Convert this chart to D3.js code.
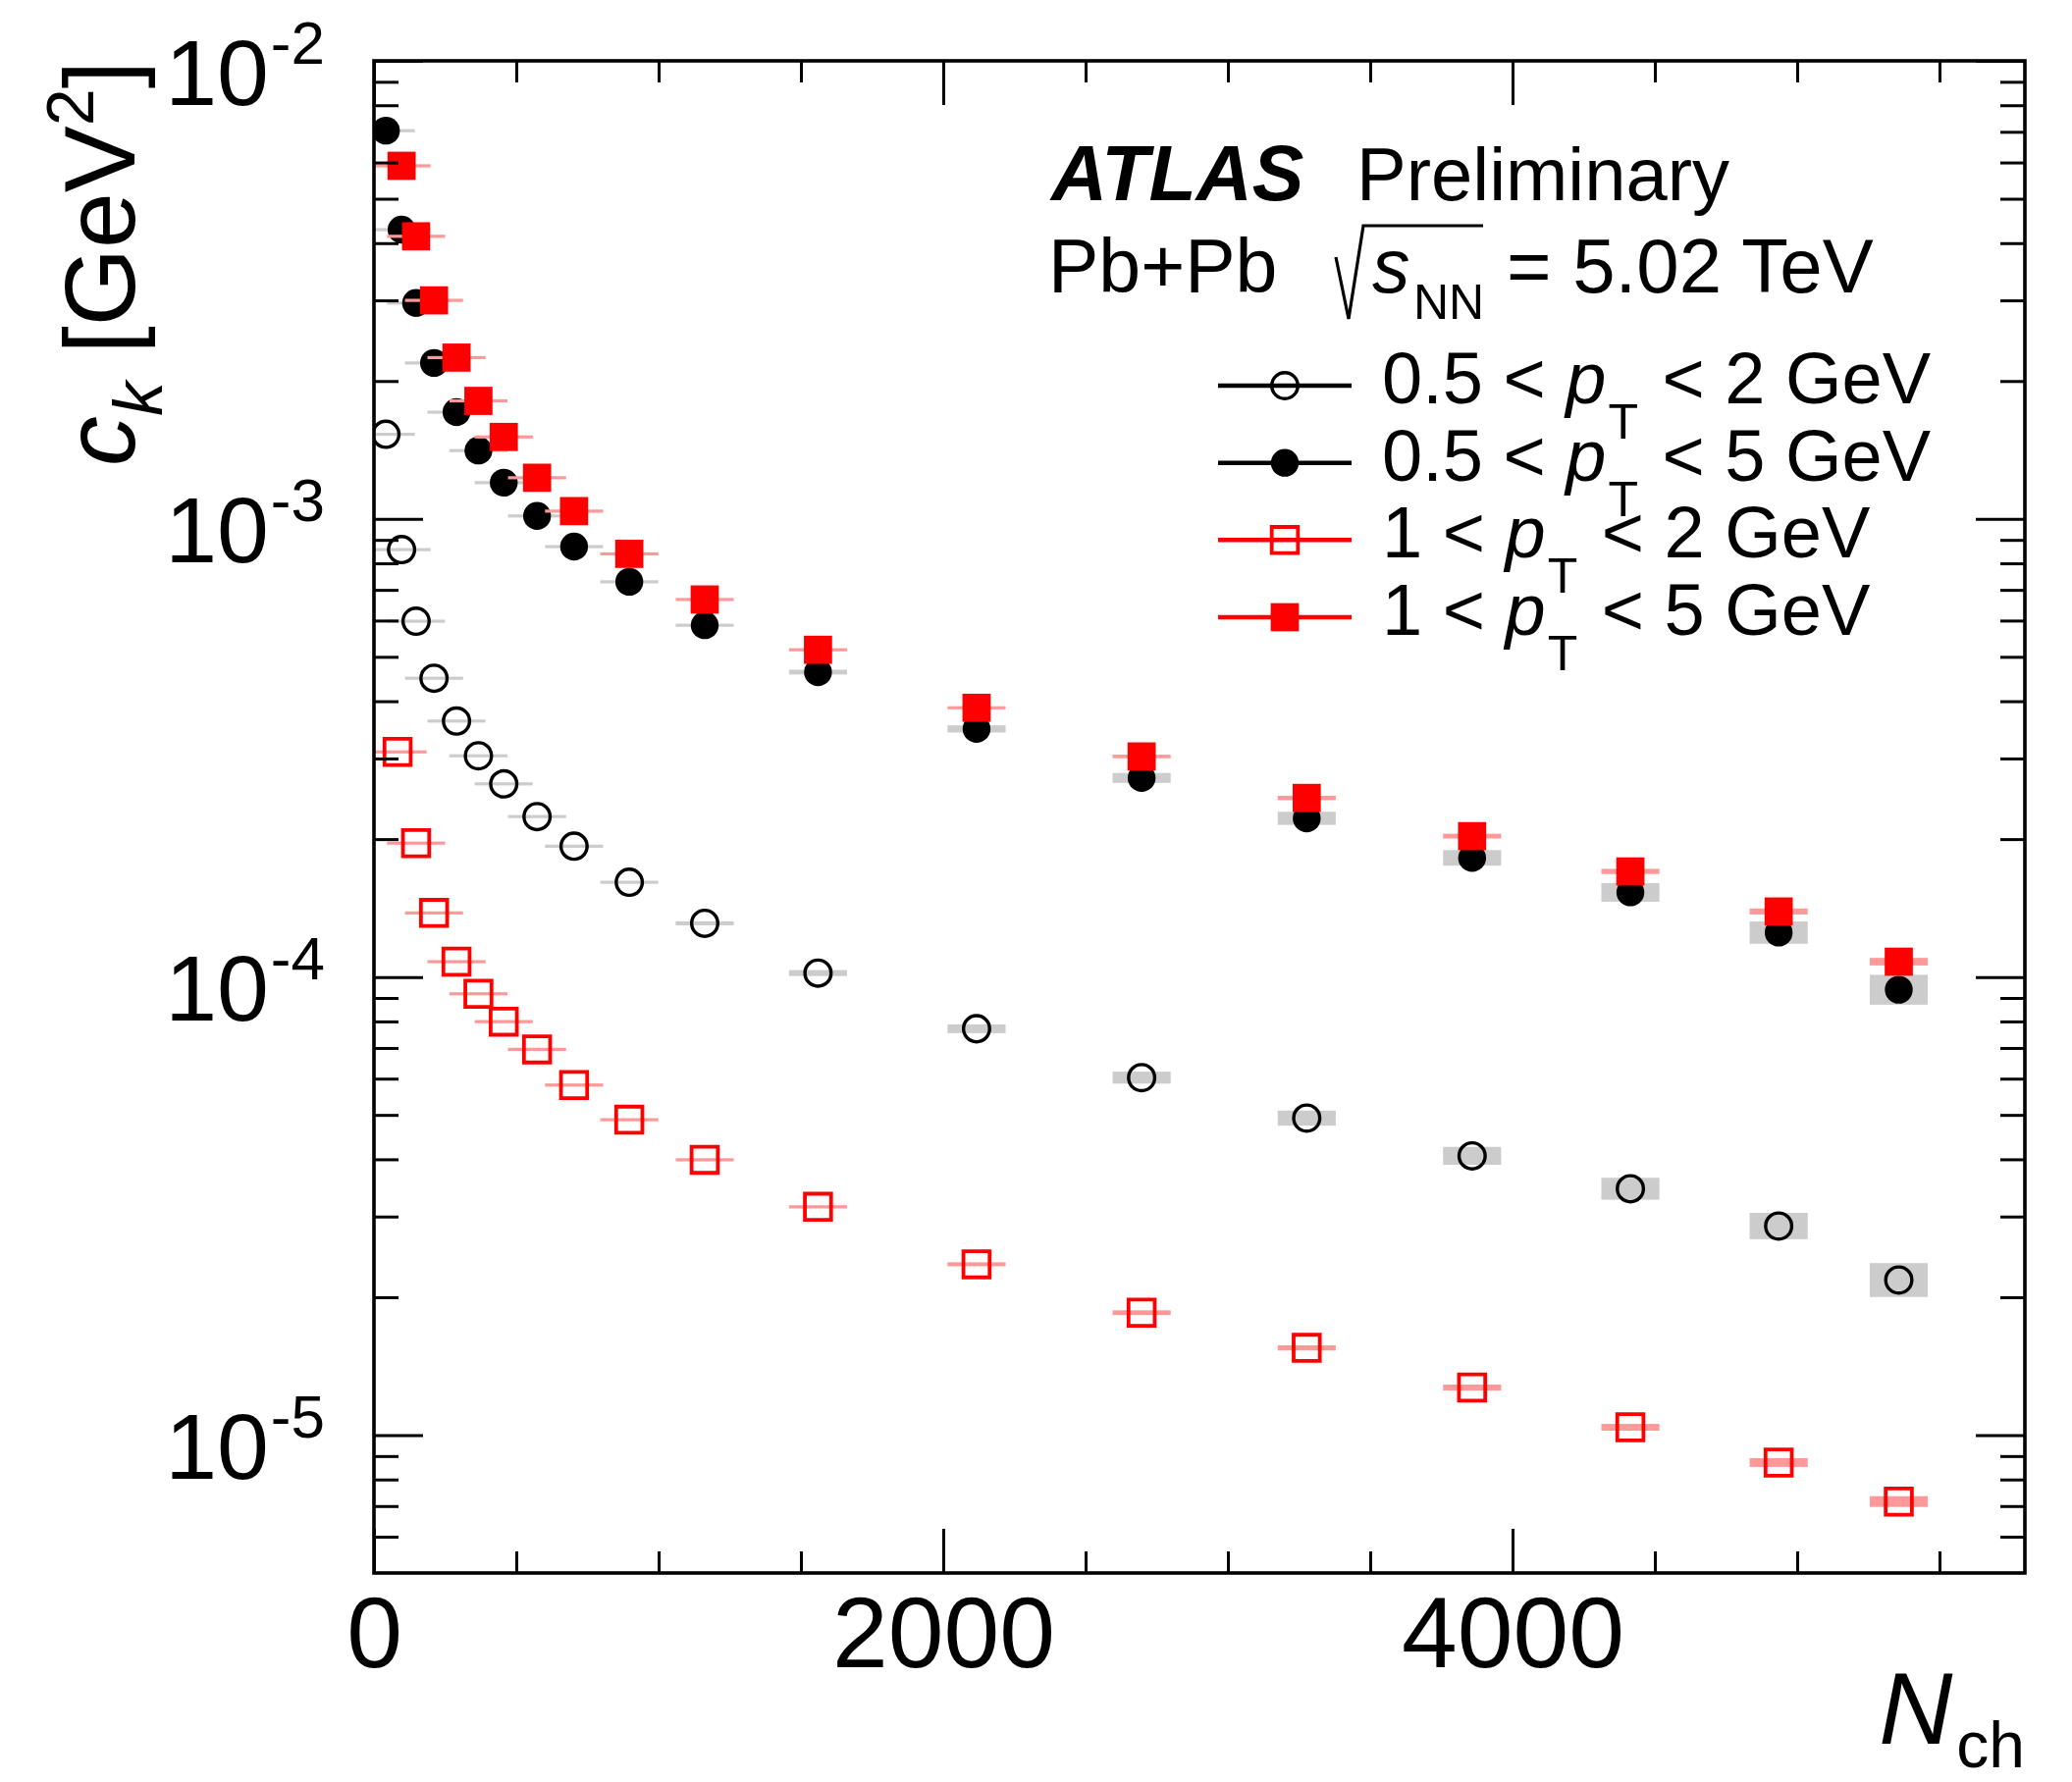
<!DOCTYPE html>
<html>
<head>
<meta charset="utf-8">
<script src="https://cdn.jsdelivr.net/npm/d3@7"></script>
<style>
  body { margin: 0; background: #fff; }
  text { font-family: "Liberation Sans", Arial, Helvetica, sans-serif; fill: #000; }
</style>
</head>
<body>
<div id="vis"></div>
<script>
// N_ch bin centres
const nchA = [42, 97, 148, 211, 290, 367, 456, 573, 703, 897, 1162, 1560, 2117, 2697, 3277, 3858, 4414, 4935, 5357];
const nchB = [97, 148, 211, 290, 367, 456, 573, 703, 897, 1162, 1560, 2117, 2697, 3277, 3858, 4414, 4935, 5357];
const nchC = [83, 148, 211, 290, 367, 456, 573, 703, 897, 1162, 1560, 2117, 2697, 3277, 3858, 4414, 4935, 5357];

// c_k values
const ck05to2 = [1.53e-3, 8.57e-4, 5.98e-4, 4.49e-4, 3.62e-4, 3.04e-4, 2.64e-4, 2.24e-4, 1.93e-4, 1.61e-4,
  1.31e-4, 1.02e-4, 7.71e-5, 6.03e-5, 4.92e-5, 4.07e-5, 3.45e-5, 2.86e-5, 2.18e-5];
const ck05to5 = [7.04e-3, 4.28e-3, 2.96e-3, 2.19e-3, 1.71e-3, 1.41e-3, 1.20e-3, 1.015e-3, 8.70e-4, 7.29e-4,
  5.86e-4, 4.63e-4, 3.48e-4, 2.72e-4, 2.22e-4, 1.82e-4, 1.53e-4, 1.25e-4, 9.38e-5];
const ck1to2 = [3.10e-4, 1.96e-4, 1.38e-4, 1.08e-4, 9.19e-5, 7.99e-5, 6.95e-5, 5.81e-5, 4.88e-5,
  3.99e-5, 3.15e-5, 2.36e-5, 1.85e-5, 1.55e-5, 1.27e-5, 1.04e-5, 8.71e-6, 7.16e-6];
const ck1to5 = [5.90e-3, 4.14e-3, 3.00e-3, 2.25e-3, 1.81e-3, 1.51e-3, 1.23e-3, 1.04e-3, 8.39e-4,
  6.67e-4, 5.18e-4, 3.87e-4, 3.03e-4, 2.46e-4, 2.03e-4, 1.70e-4, 1.39e-4, 1.08e-4];

// relative systematic uncertainties
const sys05to2 = [0.005, 0.005, 0.005, 0.005, 0.005, 0.005, 0.005, 0.005, 0.005, 0.005,
  0.010, 0.015, 0.022, 0.030, 0.038, 0.045, 0.055, 0.066, 0.085];
const sys05to5 = [0.005, 0.005, 0.005, 0.005, 0.005, 0.005, 0.005, 0.005, 0.005, 0.005,
  0.005, 0.012, 0.018, 0.025, 0.033, 0.039, 0.047, 0.056, 0.075];
const sys1to2 = [0.005, 0.005, 0.005, 0.005, 0.005, 0.005, 0.005, 0.005, 0.005,
  0.005, 0.008, 0.010, 0.012, 0.013, 0.015, 0.017, 0.022, 0.027];
const sys1to5 = [0.005, 0.005, 0.005, 0.005, 0.005, 0.005, 0.005, 0.005, 0.005,
  0.005, 0.005, 0.007, 0.009, 0.011, 0.012, 0.013, 0.015, 0.019];

const xMajor = [0, 2000, 4000];
const yMajor = [1e-5, 1e-4, 1e-3, 1e-2];
const yExp = ["5", "4", "3", "2"];
const legendLabels = [
  { lo: "0.5", hi: "2 GeV" },
  { lo: "0.5", hi: "5 GeV" },
  { lo: "1", hi: "2 GeV" },
  { lo: "1", hi: "5 GeV" }
];

const WIDTH = 2111, HEIGHT = 1816;
const MARGINS = { left: 381, right: 48, top: 62, bottom: 213 };
const X0 = MARGINS.left, X1 = WIDTH - MARGINS.right;
const Y0 = MARGINS.top, Y1 = HEIGHT - MARGINS.bottom;
const BOX_HALF = 102;  // half width of the uncertainty boxes, in N_ch

const svg = d3.select("#vis").append("svg")
  .attr("width", WIDTH).attr("height", HEIGHT);

const x = d3.scaleLinear().domain([0, 5800]).range([X0, X1]);
const y = d3.scaleLog().domain([5e-6, 1e-2]).range([Y1, Y0]);

const xMinor = d3.range(0, 5801, 500).filter(v => !xMajor.includes(v) && v < 5800);
const yMinor = [];
[-6, -5, -4, -3].forEach(e => {
  for (let m = 2; m <= 9; m++) {
    const v = m * Math.pow(10, e);
    if (v > 5.01e-6 && v < 1e-2) yMinor.push(v);
  }
});

svg.append("clipPath").attr("id", "plot")
  .append("rect").attr("x", X0).attr("y", Y0).attr("width", X1 - X0).attr("height", Y1 - Y0);

const plot = svg.append("g").attr("clip-path", "url(#plot)");

function drawSeries(xs, ys, sys, boxColor, type, filled, color) {
  const pts = xs.map((d, i) => ({ x: d, y: ys[i], s: sys[i] }));
  const boxH = d => Math.max(y(d.y * (1 - d.s)) - y(d.y * (1 + d.s)), 3.2);
  plot.append("g").selectAll("rect")
    .data(pts).enter().append("rect")
    .attr("x", d => x(d.x - BOX_HALF))
    .attr("width", d => x(d.x + BOX_HALF) - x(d.x - BOX_HALF))
    .attr("y", d => y(d.y) - boxH(d) / 2)
    .attr("height", boxH)
    .attr("fill", boxColor);

  const sym = d3.symbol().type(type === "circle" ? d3.symbolCircle : d3.symbolSquare)
    .size(filled ? (type === "circle" ? 633 : 824) : (type === "circle" ? 556 : 713));
  plot.append("g").selectAll("path")
    .data(pts).enter().append("path")
    .attr("d", sym)
    .attr("transform", d => "translate(" + x(d.x) + "," + y(d.y) + ")")
    .attr("fill", filled ? color : "none")
    .attr("stroke", filled ? "none" : color)
    .attr("stroke-width", type === "circle" ? 3.4 : 3.8);
}

drawSeries(nchA, ck05to2, sys05to2, "#cccccc", "circle", false, "#000");
drawSeries(nchA, ck05to5, sys05to5, "#cccccc", "circle", true, "#000");
drawSeries(nchC, ck1to2, sys1to2, "#ff9999", "square", false, "#ff0000");
drawSeries(nchB, ck1to5, sys1to5, "#ff9999", "square", true, "#ff0000");

// axes (ticks pointing into the frame, mirrored on top and right)
function axisStyle(g) {
  g.select(".domain").remove();
  g.selectAll(".tick line").attr("stroke", "#000").attr("stroke-width", 3);
}

svg.append("g").attr("transform", "translate(0," + Y1 + ")")
  .call(d3.axisBottom(x).tickValues(xMajor).tickSize(-45).tickPadding(24).tickFormat(d3.format("d")))
  .call(axisStyle)
  .call(g => g.selectAll(".tick text").attr("font-size", 102).attr("font-family", "Liberation Sans"));
svg.append("g").attr("transform", "translate(0," + Y1 + ")")
  .call(d3.axisBottom(x).tickValues(xMinor).tickSize(-22).tickFormat(""))
  .call(axisStyle);
svg.append("g").attr("transform", "translate(0," + Y0 + ")")
  .call(d3.axisTop(x).tickValues(xMajor).tickSize(-45).tickFormat(""))
  .call(axisStyle);
svg.append("g").attr("transform", "translate(0," + Y0 + ")")
  .call(d3.axisTop(x).tickValues(xMinor).tickSize(-22).tickFormat(""))
  .call(axisStyle);

const yAxisG = svg.append("g").attr("transform", "translate(" + X0 + ",0)")
  .call(d3.axisLeft(y).tickValues(yMajor).tickSize(-50).tickFormat(""))
  .call(axisStyle);
svg.append("g").attr("transform", "translate(" + X0 + ",0)")
  .call(d3.axisLeft(y).tickValues(yMinor).tickSize(-25).tickFormat(""))
  .call(axisStyle);
svg.append("g").attr("transform", "translate(" + X1 + ",0)")
  .call(d3.axisRight(y).tickValues(yMajor).tickSize(-50).tickFormat(""))
  .call(axisStyle);
svg.append("g").attr("transform", "translate(" + X1 + ",0)")
  .call(d3.axisRight(y).tickValues(yMinor).tickSize(-25).tickFormat(""))
  .call(axisStyle);

// y tick labels 10^{-n}
yAxisG.selectAll(".tick").each(function (d, i) {
  const t = d3.select(this).append("text")
    .attr("x", -50).attr("y", 44)
    .attr("text-anchor", "end").attr("font-size", 95);
  t.append("tspan").text("10");
  t.append("tspan").attr("font-size", 62).attr("dy", -42).attr("dx", 2).text("-" + yExp[i]);
});

// frame
svg.append("rect").attr("x", X0).attr("y", Y0)
  .attr("width", X1 - X0).attr("height", Y1 - Y0)
  .attr("fill", "none").attr("stroke", "#000").attr("stroke-width", 3.6);

// axis titles
const xt = svg.append("text").attr("x", X1).attr("y", 1777)
  .attr("text-anchor", "end").attr("font-size", 104);
xt.append("tspan").attr("font-style", "italic").text("N");
xt.append("tspan").attr("font-size", 66).attr("dy", 24).attr("dx", 4).text("ch");

const yt = svg.append("text")
  .attr("transform", "translate(137," + Y0 + ") rotate(-90)")
  .attr("text-anchor", "end").attr("font-size", 102);
yt.append("tspan").attr("font-style", "italic").text("c");
yt.append("tspan").attr("font-style", "italic").attr("font-size", 70).attr("dy", 28).text("k");
yt.append("tspan").attr("dy", -28).text(" [GeV");
yt.append("tspan").attr("font-size", 68).attr("dy", -42).text("2");
yt.append("tspan").attr("dy", 42).text("]");

// labels
svg.append("text").attr("x", 1071).attr("y", 204).attr("font-size", 79)
  .attr("font-weight", "bold").attr("font-style", "italic").text("ATLAS");
svg.append("text").attr("x", 1382).attr("y", 204).attr("font-size", 76).text("Preliminary");
svg.append("text").attr("x", 1068).attr("y", 298).attr("font-size", 77).text("Pb+Pb");
svg.append("path")
  .attr("d", "M1361,262 L1374,325 L1389,230 L1511,230")
  .attr("fill", "none").attr("stroke", "#000").attr("stroke-width", 3.2);
svg.append("text").attr("x", 1398).attr("y", 298).attr("font-size", 77)
  .attr("font-style", "italic").text("s");
svg.append("text").attr("x", 1440).attr("y", 325).attr("font-size", 50).text("NN");
svg.append("text").attr("x", 1535).attr("y", 298).attr("font-size", 78).text("= 5.02 TeV");

// legend
const legendY = d3.scalePoint().domain(d3.range(4)).range([393, 629]);
const legendStyle = [
  { type: "circle", filled: false, color: "#000" },
  { type: "circle", filled: true, color: "#000" },
  { type: "square", filled: false, color: "#ff0000" },
  { type: "square", filled: true, color: "#ff0000" }
];
const leg = svg.append("g");
legendLabels.forEach((lab, i) => {
  const ly = legendY(i), st = legendStyle[i];
  leg.append("line").attr("x1", 1241).attr("x2", 1377).attr("y1", ly).attr("y2", ly)
    .attr("stroke", st.color).attr("stroke-width", 4.5);
  const sym = d3.symbol().type(st.type === "circle" ? d3.symbolCircle : d3.symbolSquare)
    .size(st.filled ? (st.type === "circle" ? 633 : 824) : (st.type === "circle" ? 556 : 713));
  leg.append("path").attr("d", sym).attr("transform", "translate(1309," + ly + ")")
    .attr("fill", st.filled ? st.color : "none")
    .attr("stroke", st.filled ? "none" : st.color)
    .attr("stroke-width", st.type === "circle" ? 3.4 : 3.8);
  const t = leg.append("text").attr("x", 1408).attr("y", ly + 18).attr("font-size", 74);
  t.append("tspan").text(lab.lo + " < ");
  t.append("tspan").attr("font-style", "italic").text("p");
  t.append("tspan").attr("font-size", 50).attr("dy", 36).attr("dx", 2).text("T");
  t.append("tspan").attr("dy", -36).attr("dx", 4).text(" < " + lab.hi);
});
</script>
</body>
</html>
